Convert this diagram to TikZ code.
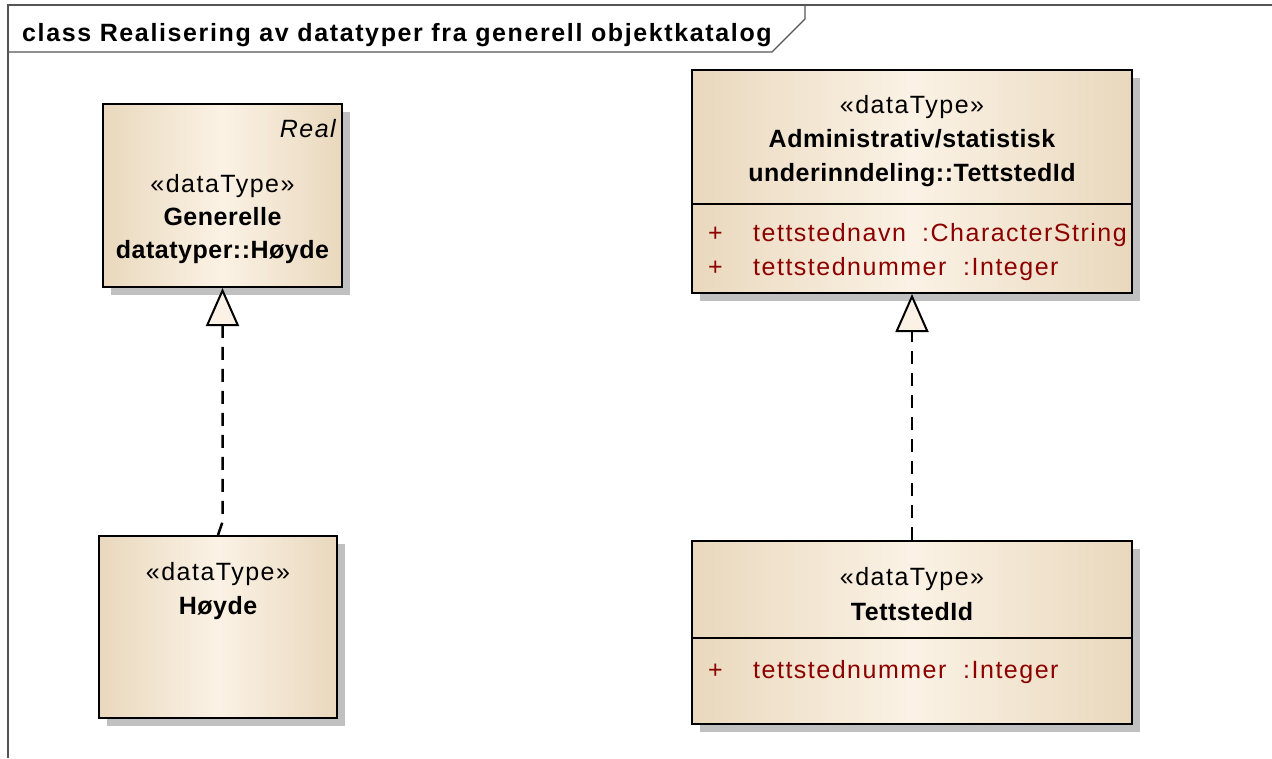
\documentclass[tikz,border=0pt]{standalone}
\usepackage{fontspec}
\setmainfont{Liberation Sans}[LetterSpace=6]
\newfontfamily\namefont{Liberation Sans}[LetterSpace=2]
\newfontfamily\titlefont{Liberation Sans}[LetterSpace=6.5]
\usetikzlibrary{shadows,arrows.meta}
\definecolor{tanC}{RGB}{233,216,189}
\definecolor{creamC}{RGB}{251,242,229}
\definecolor{shadowC}{RGB}{192,192,192}
\definecolor{attrC}{RGB}{140,0,0}
\definecolor{frameC}{RGB}{85,85,85}
\begin{document}
\begin{tikzpicture}[x=1pt,y=-1pt,
  umlbox/.style={draw=black, line width=2pt, rectangle, inner sep=0pt,
    left color=tanC, right color=tanC, middle color=creamC,
    drop shadow={shadow xshift=8pt, shadow yshift=-8pt, fill=shadowC, opacity=1}},
  txt/.style={font=\fontsize{25}{29}\selectfont, inner sep=0pt, anchor=base},
  nametxt/.style={txt, font=\namefont\fontsize{25}{29}\selectfont\bfseries},
  titletxt/.style={txt, anchor=base west, font=\titlefont\fontsize{25}{29}\selectfont\bfseries},
  attrtxt/.style={txt, anchor=base west, text=attrC},
  realtxt/.style={txt, anchor=base east, font=\fontsize{25}{29}\selectfont\itshape},
  sepline/.style={draw=black, line width=2pt},
  realize/.style={draw=black, line width=2.5pt, dash pattern=on 13pt off 9pt,
    -{Triangle[length=38pt, width=33pt, fill=creamC, line width=2pt]}},
  framel/.style={draw=frameC, line width=2pt}
]
\useasboundingbox (0,0) rectangle (1272,758);
% frame
\draw[framel] (8,758) -- (8,5) -- (1272,5);
\draw[framel, line width=1.3pt] (8,52) -- (772,52) -- (805,19) -- (805,5);
\node[titletxt] (title) at (22,41) {class Realisering av datatyper fra generell objektkatalog};

% boxes
\node[umlbox, minimum width=239pt, minimum height=183pt] (genHoyde) at (222.5,195.5) {};
\node[umlbox, minimum width=238pt, minimum height=182pt] (hoyde) at (218,627) {};
\node[umlbox, minimum width=440pt, minimum height=223pt] (admTett) at (912,181.5) {};
\node[umlbox, minimum width=440pt, minimum height=183pt] (tett) at (912,632.5) {};

% separators
\draw[sepline] (692,204) -- (1132,204);
\draw[sepline] (692,638) -- (1132,638);

% texts box genHoyde
\node[realtxt] (realA) at (336,137) {Real};
\node[txt] (stA) at (222.5,192) {«dataType»};
\node[nametxt] (nA1) at (222.5,225) {Generelle};
\node[nametxt] (nA2) at (222.5,258) {datatyper::Høyde};

% texts box hoyde
\node[txt] (stB) at (218,580) {«dataType»};
\node[nametxt] (nB) at (218,614) {Høyde};

% texts box admTett
\node[txt] (stC) at (912,113) {«dataType»};
\node[nametxt] (nC1) at (912,147) {Administrativ/statistisk};
\node[nametxt] (nC2) at (912,181) {underinndeling::TettstedId};
\node[attrtxt] (pC1) at (708,241) {+};
\node[attrtxt] (aC1) at (753,241) {tettstednavn};
\node[attrtxt] (tC1) at (922,241) {:CharacterString};
\node[attrtxt] (pC2) at (708,275) {+};
\node[attrtxt] (aC2) at (753,275) {tettstednummer};
\node[attrtxt] (tC2) at (963,275) {:Integer};

% texts box tett
\node[txt] (stD) at (912,585) {«dataType»};
\node[nametxt] (nD) at (912,620) {TettstedId};
\node[attrtxt] (pD1) at (708,678) {+};
\node[attrtxt] (aD1) at (753,678) {tettstednummer};
\node[attrtxt] (tD1) at (963,678) {:Integer};

% realizations
\coordinate (k1) at (222.5,522);
\draw[realize] (hoyde.north) -- (k1) -- (genHoyde.south);
\draw[realize] (tett.north) -- (admTett.south);
\end{tikzpicture}
\end{document}
